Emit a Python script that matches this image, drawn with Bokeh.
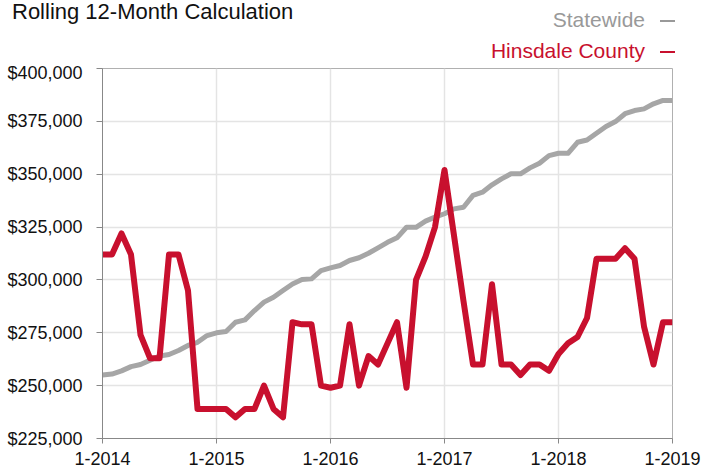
from bokeh.plotting import figure
from bokeh.layouts import column
from bokeh.models import Range1d, FixedTicker, NumeralTickFormatter, Div
from bokeh.embed import file_html
from bokeh.resources import INLINE

# ---- data (monthly, 1-2014 .. 1-2019) ----
statewide = [255000, 255500, 257000, 259000, 260000, 262000, 264000, 264700, 266600, 269000,
             270500, 273700, 275000, 275600, 280000, 281100, 285500, 289500, 291800, 295000,
             298100, 300200, 300500, 304400, 305700, 306800, 309200, 310500, 312600, 315200,
             317800, 319900, 324900, 324900, 327800, 329700, 331300, 333600, 334400, 340000,
             341500, 345000, 347800, 350200, 350200, 353000, 355200, 358800, 359900, 359900,
             365100, 366200, 369400, 372600, 374900, 378600, 380100, 380900, 383300, 384900,
             384900]
hinsdale = [312000, 312000, 322000, 312000, 274000, 263000, 263000, 312000, 312000, 295000,
            239000, 239000, 239000, 239000, 235000, 239000, 239000, 250000, 239000, 235000,
            280000, 279000, 279000, 250000, 249000, 250000, 279000, 250000, 264000, 260000,
            270000, 280000, 249000, 300000, 311000, 325000, 352000, 321000, 290000, 260000,
            260000, 298000, 260000, 260000, 255000, 260000, 260000, 257000, 265000, 270000,
            273000, 282000, 310000, 310000, 310000, 315000, 310000, 278000, 260000, 280000,
            280000]
month_index = list(range(len(statewide)))
year_ticks = [0, 12, 24, 36, 48, 60]
year_labels = ["1-2014", "1-2015", "1-2016", "1-2017", "1-2018", "1-2019"]
y_ticks = [225000, 250000, 275000, 300000, 325000, 350000, 375000, 400000]

title_text = "Rolling 12-Month Calculation"
series_names = ["Statewide", "Hinsdale County"]

GRAY = "#a6a6a6"
GRAY_TEXT = "#999999"
RED = "#c8102e"
FONT = "Liberation Sans"
W = 702
HEAD_H = 62

# ---- header (title + legend) ----
span = ("position:absolute;white-space:nowrap;font-family:'Liberation Sans',sans-serif;"
        "margin:0;padding:0;")
header_html = (
    f'<div style="position:relative;width:{W}px;height:{HEAD_H}px;margin:0;padding:0;">'
    f'<span style="{span}left:12px;top:1px;font-size:22px;line-height:22px;color:#111111;">'
    f'{title_text}</span>'
    f'<span style="{span}right:57px;top:9px;font-size:21px;line-height:21px;color:{GRAY_TEXT};">'
    f'{series_names[0]}</span>'
    f'<span style="{span}right:57px;top:39.5px;font-size:21px;line-height:21px;color:{RED};">'
    f'{series_names[1]}</span>'
    f'<div style="position:absolute;left:660px;top:19.5px;width:15px;height:2px;background:{GRAY_TEXT};"></div>'
    f'<div style="position:absolute;left:660px;top:50.5px;width:15px;height:2px;background:{RED};"></div>'
    '</div>'
)
head = Div(text=header_html, width=W, height=HEAD_H, margin=0)

# ---- main chart ----
p = figure(width=W, height=470 - HEAD_H, output_backend="svg", toolbar_location=None,
           x_range=Range1d(0, 60), y_range=Range1d(225000, 400000),
           min_border_left=102, min_border_right=30, min_border_top=68 - HEAD_H,
           min_border_bottom=32, margin=0)
p.background_fill_color = "white"
p.border_fill_color = "white"
p.outline_line_color = "#b0b0b0"
p.outline_line_width = 1

p.line(month_index, statewide, line_color=GRAY, line_width=5, line_join="round")
p.line(month_index, hinsdale, line_color=RED, line_width=6, line_join="round")

p.xaxis.ticker = FixedTicker(ticks=year_ticks)
p.xaxis.major_label_overrides = {t: l for t, l in zip(year_ticks, year_labels)}
p.yaxis.ticker = FixedTicker(ticks=y_ticks)
p.yaxis.formatter = NumeralTickFormatter(format="$0,0")

for ax in (p.xaxis, p.yaxis):
    ax.axis_line_color = "#888888"
    ax.axis_line_width = 1
    ax.major_tick_line_color = "#888888"
    ax.major_tick_in = 0
    ax.minor_tick_line_color = None
    ax.major_label_text_font = FONT
    ax.major_label_text_font_size = "18px"
    ax.major_label_text_color = "#111111"
p.yaxis.major_tick_out = 6
p.yaxis.major_label_standoff = 14
p.xaxis.major_tick_out = 5
p.xaxis.major_label_standoff = 8

p.xgrid.ticker = FixedTicker(ticks=year_ticks)
p.xgrid.grid_line_color = "#e4e4e4"
p.ygrid.grid_line_color = "#e4e4e4"
p.xgrid.grid_line_width = 1.5
p.ygrid.grid_line_width = 1.5

layout = column(head, p, spacing=0, margin=0)
open("out.html", "w").write(file_html(layout, INLINE))
